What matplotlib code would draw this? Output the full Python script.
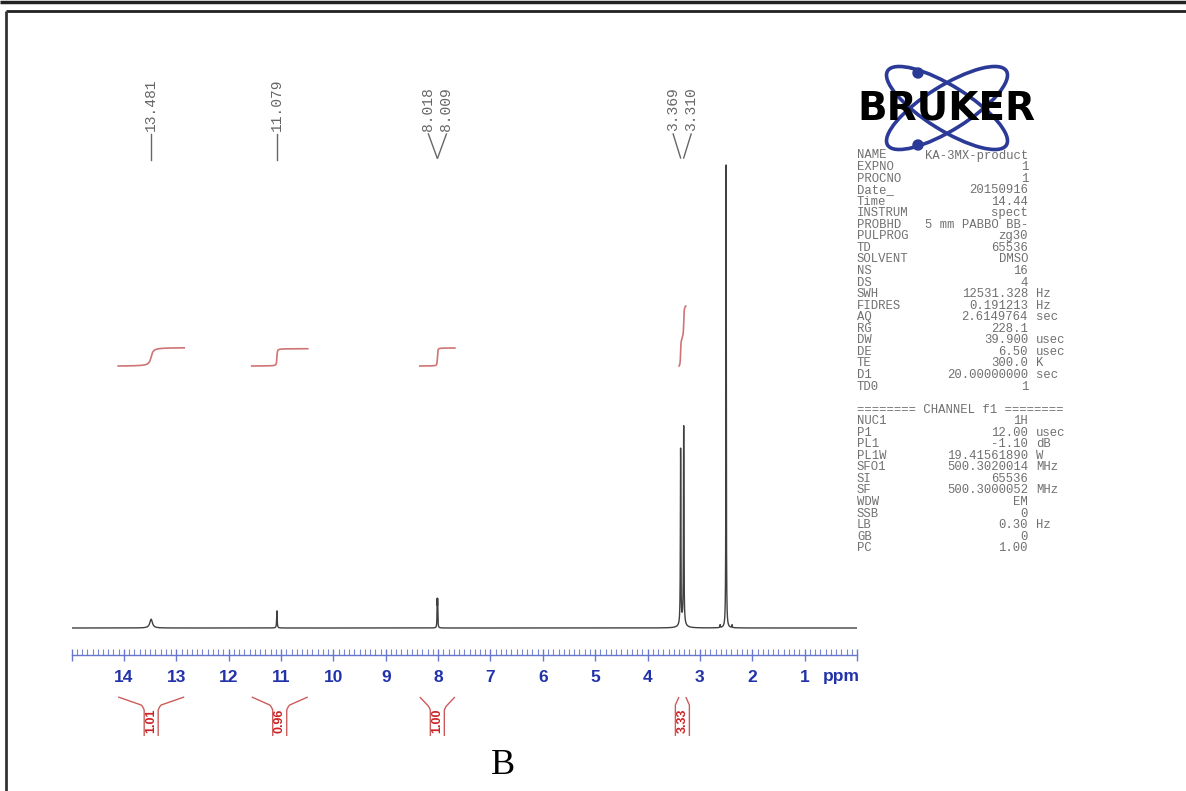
import numpy as np
import matplotlib
matplotlib.use('Agg')
import matplotlib.pyplot as plt
from matplotlib.patches import Ellipse, PathPatch, Circle
from matplotlib.path import Path
from matplotlib.ticker import MultipleLocator, FixedLocator

# ---------------- data ----------------
peak_ppm = [13.481, 11.079, 8.018, 8.009, 3.369, 3.330, 3.310, 2.614, 2.500, 2.386]
peak_height = [1.9, 3.7, 5.5, 5.5, 37.8, 1.2, 42.4, 0.6, 100.0, 0.6]
peak_hwhm = [0.030, 0.006, 0.004, 0.004, 0.005, 0.050, 0.005, 0.004, 0.004, 0.004]

label_groups = [["13.481"], ["11.079"], ["8.018", "8.009"], ["3.369", "3.310"]]

integral_regions = [(14.11, 12.85), (11.56, 10.49), (8.35, 7.68), (3.40, 3.27)]
integral_values = [1.01, 0.96, 1.00, 3.33]
integral_labels = ["1.01", "0.96", "1.00", "3.33"]

tick_values = list(range(0, 16))
tick_labels = [str(v) if 1 <= v <= 14 else "" for v in tick_values]

param_names = ["NAME", "EXPNO", "PROCNO", "Date_", "Time", "INSTRUM", "PROBHD",
               "PULPROG", "TD", "SOLVENT", "NS", "DS", "SWH", "FIDRES", "AQ",
               "RG", "DW", "DE", "TE", "D1", "TD0", "",
               "======== CHANNEL f1 ========",
               "NUC1", "P1", "PL1", "PL1W", "SFO1", "SI", "SF", "WDW", "SSB",
               "LB", "GB", "PC"]
param_values = ["KA-3MX-product", "1", "1", "20150916", "14.44", "spect",
                "5 mm PABBO BB-", "zg30", "65536", "DMSO", "16", "4",
                "12531.328", "0.191213", "2.6149764", "228.1", "39.900", "6.50",
                "300.0", "20.00000000", "1", "", "",
                "1H", "12.00", "-1.10", "19.41561890", "500.3020014", "65536",
                "500.3000052", "EM", "0", "0.30", "0", "1.00"]
param_units = ["", "", "", "", "", "", "", "", "", "", "", "",
               "Hz", "Hz", "sec", "", "usec", "usec", "K", "sec", "", "", "",
               "", "usec", "dB", "W", "MHz", "", "MHz", "", "", "Hz", "", ""]

# ---------------- layout helpers ----------------
W, H = 1186, 791
BASE_PX = 628.0
PPU = 4.63            # pixels per intensity unit
PX_PER_PPM = 52.4
AX_TOP_PX, AX_BOT_PX = 40.0, 655.0
X_LEFT_PX, X_RIGHT_PX = 71.6, 857.0


def py(p):
    return (BASE_PX - p) / PPU


def dppm(px):
    return px / PX_PER_PPM


fig = plt.figure(figsize=(W / 100, H / 100), dpi=100)
fig.patch.set_facecolor('white')

ax = fig.add_axes([X_LEFT_PX / W, (H - AX_BOT_PX) / H,
                   (X_RIGHT_PX - X_LEFT_PX) / W, (AX_BOT_PX - AX_TOP_PX) / H])
ax.set_facecolor('none')
ax.set_xlim(15, 0)
ax.set_ylim(py(AX_BOT_PX), py(AX_TOP_PX))

# ---------------- spectrum ----------------
x = np.linspace(15, 0, 30001)
spec = np.zeros_like(x)
for p, h, w in zip(peak_ppm, peak_height, peak_hwhm):
    spec += h * w ** 2 / ((x - p) ** 2 + w ** 2)
ax.plot(x, spec, color='#404040', lw=1.0, zorder=3)

# ---------------- integrals ----------------
int_color = '#cf7575'
STEP = 18.0 / PPU
for (hi, lo), val in zip(integral_regions, integral_values):
    m = (x <= hi) & (x >= lo)
    xs = x[m]
    cum = np.cumsum(spec[m])
    norm = cum / cum[-1]
    ax.plot(xs, py(366) + val * STEP * norm, color=int_color, lw=1.2, zorder=2)

# integral brackets below the ruler
bw = dppm(7)
for (hi, lo), lab in zip(integral_regions, integral_labels):
    c = (hi + lo) / 2
    half = (hi - lo) / 2
    mid = max(bw, min(half, bw + dppm(3)))
    verts = [(hi, py(697)), (c + mid, py(705)), (c + bw, py(708)),
             (c + bw, py(711)), (c + bw, py(736)),
             (lo, py(697)), (c - mid, py(705)), (c - bw, py(708)),
             (c - bw, py(711)), (c - bw, py(736))]
    codes = [Path.MOVETO, Path.LINETO, Path.CURVE3, Path.CURVE3, Path.LINETO,
             Path.MOVETO, Path.LINETO, Path.CURVE3, Path.CURVE3, Path.LINETO]
    ax.add_patch(PathPatch(Path(verts, codes), fill=False, edgecolor='#cc5c5c',
                           lw=1.0, clip_on=False))
    ax.text(c, py(721), lab, rotation=90, ha='center', va='center',
            color='#cc2222', fontsize=9, fontweight='bold',
            family=['Liberation Sans', 'DejaVu Sans'], clip_on=False)

# ---------------- peak labels ----------------
lab_kw = dict(rotation=90, ha='center', va='bottom', color='#666666',
              fontsize=10.5, family=['Liberation Mono', 'DejaVu Sans Mono'])
for grp in label_groups:
    vals = [float(s) for s in grp]
    if len(grp) == 1:
        ax.text(vals[0], py(131), grp[0], **lab_kw)
        ax.plot([vals[0], vals[0]], [py(134), py(160)], color='#666666', lw=1.0)
    else:
        mean = np.mean(vals)
        offs = [dppm(9), -dppm(9)]
        for s, v, o in zip(grp, vals, offs):
            lx = mean + o
            ax.text(lx, py(131), s, **lab_kw)
            ax.plot([lx, v], [py(134), py(158)], color='#666666', lw=1.0)

# ---------------- ruler axis ----------------
for side in ['top', 'left', 'right']:
    ax.spines[side].set_visible(False)
ax.spines['bottom'].set_color('#6677cc')
ax.spines['bottom'].set_linewidth(1.0)
ax.set_yticks([])
ax.xaxis.set_major_locator(FixedLocator(tick_values))
ax.set_xticklabels(tick_labels)
ax.xaxis.set_minor_locator(MultipleLocator(0.1))
ax.tick_params(axis='x', which='major', direction='inout', length=8, width=1,
               color='#6677cc', labelcolor='#2233aa', labelsize=12.5, pad=7)
ax.tick_params(axis='x', which='minor', direction='in', length=4, width=0.8,
               color='#7788cc')
for t in ax.get_xticklabels():
    t.set_fontweight('bold')
    t.set_family(['Liberation Sans', 'DejaVu Sans'])
ax.text(1 - dppm(18), py(677), 'ppm', ha='left', va='center', color='#2233aa',
        fontsize=12.5, fontweight='bold', family=['Liberation Sans', 'DejaVu Sans'],
        clip_on=False)

# ---------------- overlay (frame, logo, parameters, caption) ----------------
ov = fig.add_axes([0, 0, 1, 1])
ov.set_xlim(0, W)
ov.set_ylim(H, 0)
ov.axis('off')

ov.plot([0, W], [1.5, 1.5], color='#222222', lw=2.5, solid_capstyle='butt')
ov.plot([5.5, W + 5], [11, 11], color='#222222', lw=2.0, solid_capstyle='butt')
ov.plot([5.5, 5.5], [11, H + 5], color='#333333', lw=2.0, solid_capstyle='butt')

logo_blue = '#2b3a96'
for ang in (32, -32):
    ov.add_patch(Ellipse((947, 108), 140, 44, angle=ang, fill=False,
                         edgecolor=logo_blue, lw=2.6, zorder=2))
ov.add_patch(Circle((918, 73), 5, color=logo_blue, zorder=2))
ov.add_patch(Circle((918, 145), 5, color=logo_blue, zorder=2))
ov.text(946, 109, 'BRUKER', ha='center', va='center', fontsize=28,
        fontweight='heavy', color='black', family='DejaVu Sans', zorder=3)

mono = ['Liberation Mono', 'DejaVu Sans Mono']
tcol = '#707070'
for i, (n, v, u) in enumerate(zip(param_names, param_values, param_units)):
    yy = 155 + i * 11.55 + 3.5
    kw = dict(va='baseline', fontsize=8.8, color=tcol, family=mono)
    if n:
        ov.text(857, yy, n, ha='left', **kw)
    if v:
        ov.text(1028, yy, v, ha='right', **kw)
    if u:
        ov.text(1036, yy, u, ha='left', **kw)

ov.text(503, 765, 'B', ha='center', va='center', fontsize=26, color='black',
        family=['Liberation Serif', 'DejaVu Serif'])

fig.savefig('out.png', dpi=100, facecolor='white')
